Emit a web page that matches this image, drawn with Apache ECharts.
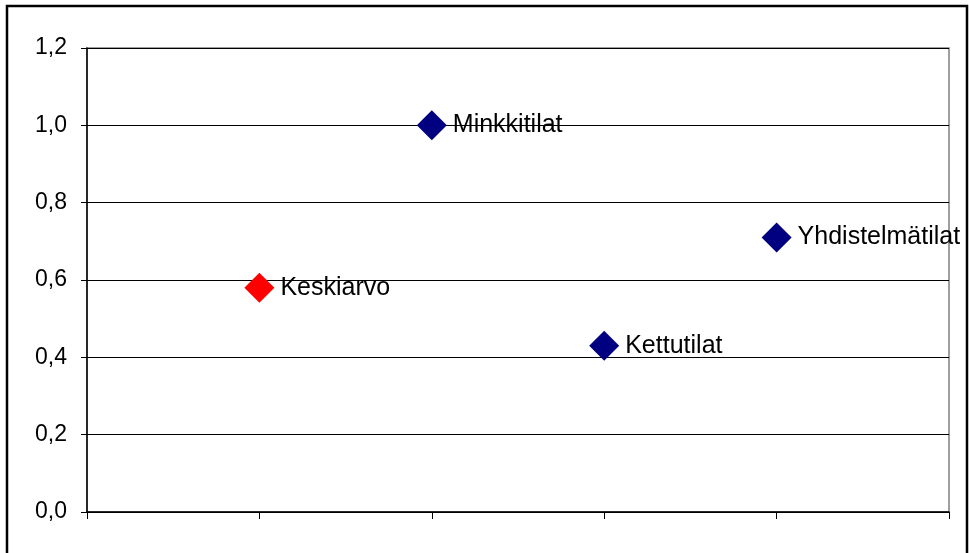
<!DOCTYPE html>
<html>
<head>
<meta charset="utf-8">
<script src="https://cdn.jsdelivr.net/npm/echarts@6/dist/echarts.min.js"></script>
<style>
html, body { margin: 0; padding: 0; background: #fff; }
#chart { width: 969px; height: 553px; }
</style>
</head>
<body>
<div id="chart"></div>
<script>
// data
var names = ['Keskiarvo', 'Minkkitilat', 'Kettutilat', 'Yhdistelmätilat'];
var positions = [1, 2, 3, 4];
var values = [0.58, 1.0, 0.43, 0.71];
var colors = ['#ff0000', '#000080', '#000080', '#000080'];

var points = names.map(function (n, i) {
    return {
        name: n,
        value: [positions[i], values[i]],
        itemStyle: { color: colors[i], opacity: 1 }
    };
});

var myChart = echarts.init(document.getElementById('chart'));
var option = {
    animation: false,
    backgroundColor: '#fff',
    textStyle: { fontFamily: 'Liberation Sans, Arial, sans-serif' },
    grid: { left: 87, right: 20, top: 48, bottom: 41, show: true, borderColor: '#808080', borderWidth: 1.5 },
    graphic: [{
        type: 'rect',
        shape: { x: 7, y: 6, width: 960, height: 560 },
        style: { fill: 'none', stroke: '#000', lineWidth: 2.5 },
        z: 100
    }],
    xAxis: {
        type: 'value',
        min: 0,
        max: 5,
        interval: 1,
        axisLine: { show: true, onZero: false, lineStyle: { color: '#000', width: 1.5 } },
        axisTick: { show: true, inside: false, length: 7, lineStyle: { color: '#000' } },
        axisLabel: { show: false },
        splitLine: { show: false }
    },
    yAxis: {
        type: 'value',
        min: 0,
        max: 1.2,
        interval: 0.2,
        axisLine: { show: true, lineStyle: { color: '#000', width: 1.5 } },
        axisTick: { show: true, inside: false, length: 6, lineStyle: { color: '#000' } },
        axisLabel: {
            color: '#000',
            fontSize: 23,
            margin: 20,
            formatter: function (v) { return v.toFixed(1).replace('.', ','); }
        },
        splitLine: { show: true, lineStyle: { color: '#000', width: 1 } }
    },
    series: [{
        type: 'scatter',
        symbol: 'diamond',
        symbolSize: 30,
        data: points,
        emphasis: { disabled: true },
        label: {
            show: true,
            position: 'right',
            distance: 6,
            color: '#000',
            fontSize: 25,
            formatter: '{b}'
        }
    }]
};
myChart.setOption(option);
</script>
</body>
</html>
